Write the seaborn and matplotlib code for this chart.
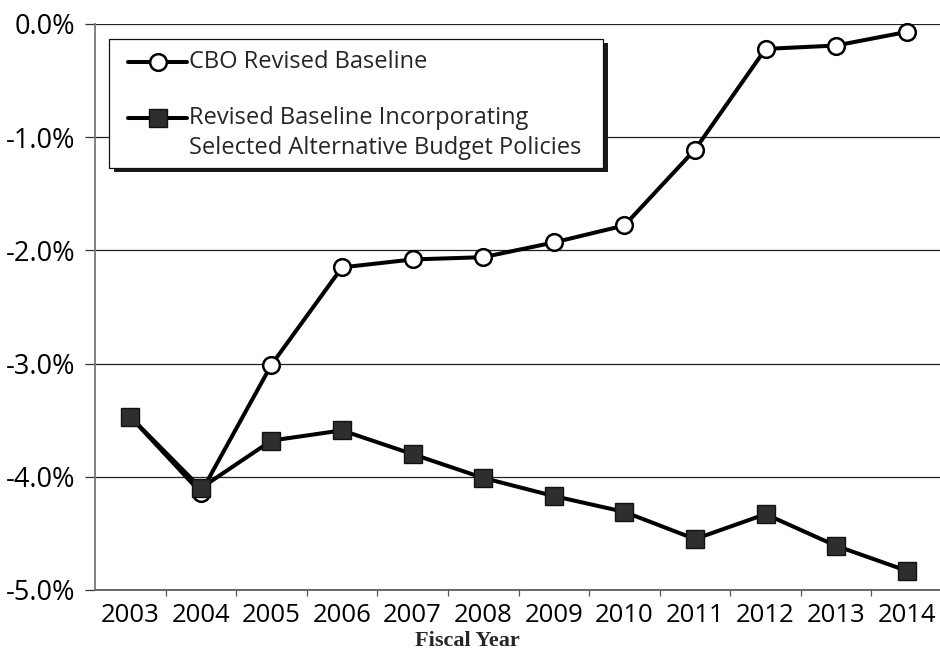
import matplotlib
matplotlib.use("Agg")
import matplotlib.pyplot as plt
from matplotlib.patches import Rectangle
import numpy as np
import pandas as pd
import seaborn as sns

# Deficit as a share of GDP, fiscal years 2003-2014
years = ["2003", "2004", "2005", "2006", "2007", "2008",
         "2009", "2010", "2011", "2012", "2013", "2014"]
cbo_revised = [-3.47, -4.14, -3.01, -2.15, -2.08, -2.06,
               -1.93, -1.78, -1.11, -0.22, -0.19, -0.07]
alt_policies = [-3.47, -4.10, -3.68, -3.59, -3.80, -4.01,
                -4.17, -4.31, -4.55, -4.33, -4.61, -4.83]
y_ticks = [0, -1, -2, -3, -4, -5]
series_labels = ["CBO Revised Baseline",
                 "Revised Baseline Incorporating\nSelected Alternative Budget Policies"]
x_title = "Fiscal Year"

sns.set_theme(style="white")
plt.rcParams["font.family"] = ["Open Sans", "DejaVu Sans"]

W, H = 940, 669
fig = plt.figure(figsize=(W / 100, H / 100), dpi=100)
ax_l, ax_r, ax_t, ax_b = 95, 942, 24, 590
ax = fig.add_axes([ax_l / W, 1 - ax_b / H, (ax_r - ax_l) / W, (ax_b - ax_t) / H])

df = pd.DataFrame({"pos": np.arange(len(years)),
                   "cbo": cbo_revised,
                   "alt": alt_policies})

LW = 2.9
sns.lineplot(data=df, x="pos", y="cbo", ax=ax, color="black", linewidth=LW,
             marker="o", markersize=12, markerfacecolor="white",
             markeredgecolor="black", markeredgewidth=1.8, zorder=3,
             clip_on=False)
sns.lineplot(data=df, x="pos", y="alt", ax=ax, color="black", linewidth=LW,
             marker="s", markersize=13.5, markerfacecolor="#2e2e2e",
             markeredgecolor="#111111", markeredgewidth=1.0, zorder=4,
             clip_on=False)

ax.set_xlim(-0.5, len(years) - 0.5)
ax.set_ylim(-5, 0)
ax.set_yticks(y_ticks)
ax.set_yticklabels([f"{v:.1f}%" for v in y_ticks])
ax.set_xticks(df["pos"])
ax.set_xticklabels(years)
ax.set_xticks(np.arange(0.5, len(years) - 0.5, 1), minor=True)
ax.set_xlabel("")
ax.set_ylabel("")

ax.yaxis.grid(True, color="#222222", linewidth=0.9, zorder=1)
ax.set_axisbelow(True)
for side in ("top", "right"):
    ax.spines[side].set_visible(False)
ax.spines["left"].set_color("#777777")
ax.spines["left"].set_linewidth(1.3)
ax.spines["bottom"].set_color("#666666")
ax.spines["bottom"].set_linewidth(1.4)

ax.tick_params(axis="y", which="major", left=True, length=7, width=0.9,
               color="#333333", pad=7, labelsize=19.5, labelcolor="black")
ax.tick_params(axis="x", which="major", bottom=True, length=0, pad=9,
               labelsize=18.5, labelcolor="black")
ax.tick_params(axis="x", which="minor", bottom=True, length=4.5, width=0.9,
               color="#555555")

fig.text(467 / W, 1 - 641 / H, x_title, ha="center", va="center",
         fontsize=16, fontweight="bold", family=["Liberation Serif", "DejaVu Serif"])


# Legend box drawn in pixel-derived axes fractions
def fx(px):
    return (px - ax_l) / (ax_r - ax_l)


def fy(py):
    return 1 - (py - ax_t) / (ax_b - ax_t)


bx0, bx1, by0, by1 = 109, 603, 39, 168
ax.add_patch(Rectangle((fx(bx0 + 5), fy(by1 + 4)), fx(bx1) - fx(bx0), fy(by0) - fy(by1),
                       transform=ax.transAxes, facecolor="#1a1a1a", edgecolor="none",
                       zorder=6, clip_on=False))
ax.add_patch(Rectangle((fx(bx0), fy(by1)), fx(bx1) - fx(bx0), fy(by0) - fy(by1),
                       transform=ax.transAxes, facecolor="white", edgecolor="#111111",
                       linewidth=0.9, zorder=7, clip_on=False))

h0, h1 = fx(128), fx(187)
hm = (h0 + h1) / 2
rows = [fy(62), fy(118)]
ax.plot([h0, h1], [rows[0]] * 2, color="black", lw=LW, transform=ax.transAxes,
        zorder=8, clip_on=False)
ax.plot([hm], [rows[0]], marker="o", markersize=12, markerfacecolor="white",
        markeredgecolor="black", markeredgewidth=1.8, transform=ax.transAxes,
        zorder=9, clip_on=False)
ax.plot([h0, h1], [rows[1]] * 2, color="black", lw=LW, transform=ax.transAxes,
        zorder=8, clip_on=False)
ax.plot([hm], [rows[1]], marker="s", markersize=13.5, markerfacecolor="#2e2e2e",
        markeredgecolor="#111111", markeredgewidth=1.0, transform=ax.transAxes,
        zorder=9, clip_on=False)

tx = fx(189)
LEG_FS = 17
ax.text(tx, rows[0], series_labels[0], transform=ax.transAxes, ha="left",
        va="center", fontsize=LEG_FS, zorder=9)
lines2 = series_labels[1].split("\n")
ax.text(tx, rows[1], lines2[0], transform=ax.transAxes, ha="left",
        va="center", fontsize=LEG_FS, zorder=9)
ax.text(tx, fy(148), lines2[1], transform=ax.transAxes, ha="left",
        va="center", fontsize=LEG_FS, zorder=9)

fig.savefig("out.png", dpi=100, facecolor="white")
